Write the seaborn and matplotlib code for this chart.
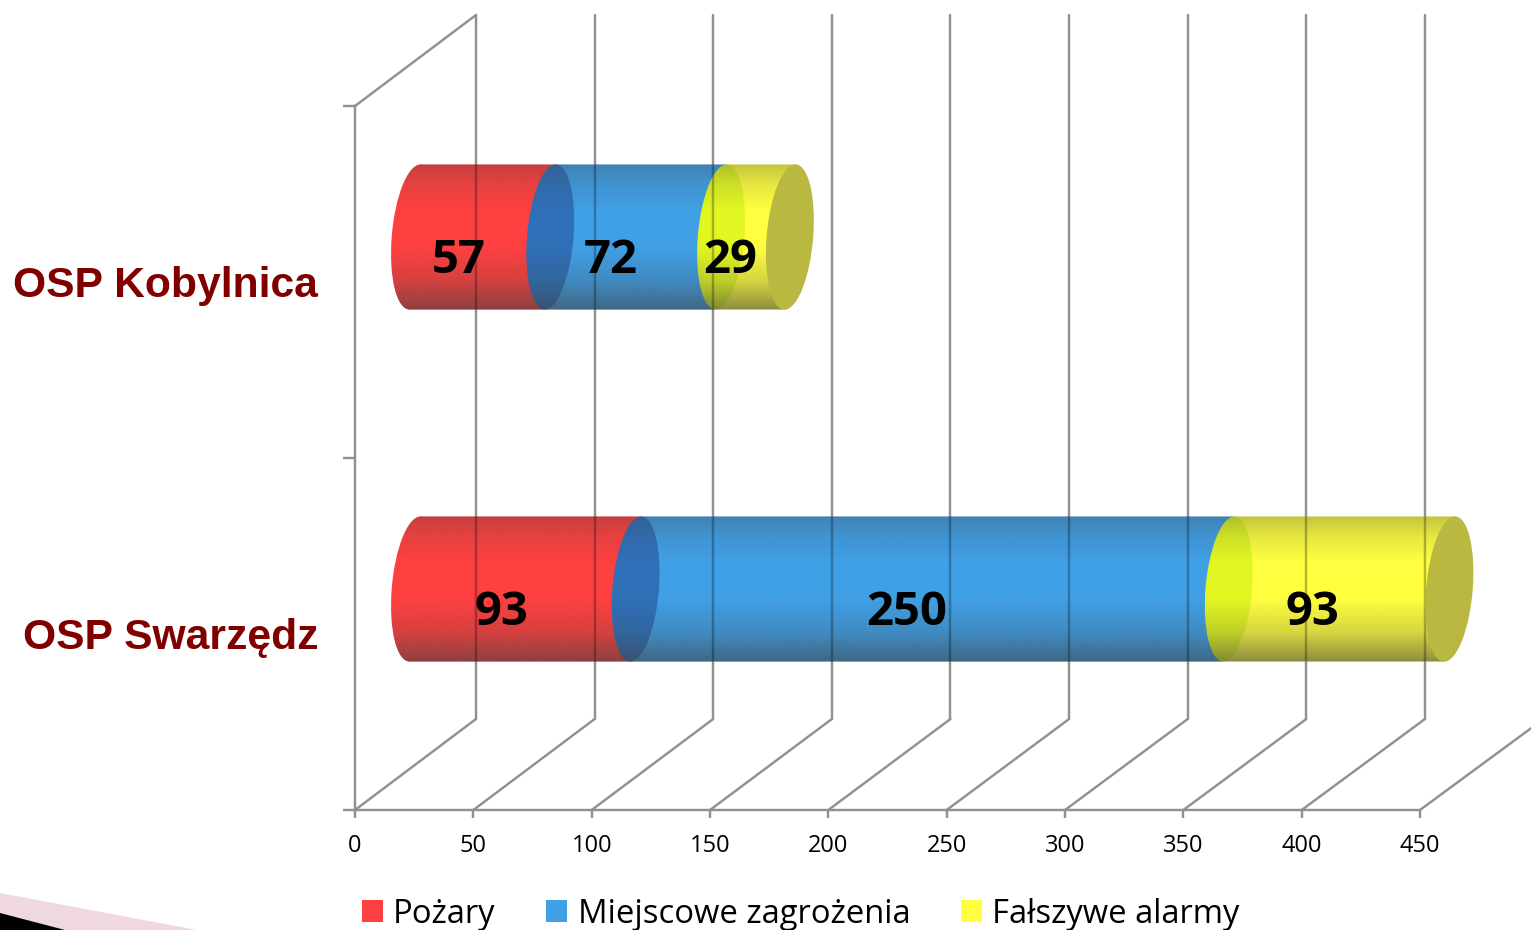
import numpy as np
import matplotlib
matplotlib.use("Agg")
import matplotlib.pyplot as plt
import seaborn as sns
from matplotlib.patches import Ellipse, Patch, Polygon
from matplotlib.path import Path
from matplotlib.transforms import Affine2D

categories = ["OSP Kobylnica", "OSP Swarzędz"]
series_names = ["Pożary", "Miejscowe zagrożenia", "Fałszywe alarmy"]
pozary = [57, 93]
miejscowe = [72, 250]
falszywe = [29, 93]
x_ticks = [0, 50, 100, 150, 200, 250, 300, 350, 400, 450]

RED, BLUE, YELLOW = "#FF4040", "#40A0E6", "#FFFF40"
RING_BLUE, RING_YELLOW, CAP = "#2F70B8", "#E2F722", "#B9B840"
LINE = "#919191"
W, H = 1531, 930

sns.set_theme(style="white")
plt.rcParams["font.family"] = ["Open Sans", "DejaVu Sans"]

fig = plt.figure(figsize=(W / 100, H / 100), dpi=100, facecolor="white")
ax = fig.add_axes([355 / W, 1 - 810 / H, (1420 - 355) / W, (810 - 106) / H])
ax.patch.set_alpha(0)

BAR_H = 0.412
series = [np.array(pozary), np.array(miejscowe), np.array(falszywe)]
colors = [RED, BLUE, YELLOW]
lefts = [np.zeros(2), series[0].astype(float), (series[0] + series[1]).astype(float)]

bar_groups = []
for vals, col, lft in zip(series, colors, lefts):
    n = len(ax.patches)
    sns.barplot(x=vals, y=categories, color=col, saturation=1, width=BAR_H, left=lft,
                errorbar=None, linewidth=0, ax=ax, orient="h")
    bar_groups.append(list(ax.patches[n:]))

ax.set_xlim(0, 450)
ax.set_ylim(1.5, -0.5)
ax.autoscale(False)
ax.set_aspect("auto")

# depth offsets of the pseudo-3D box
wall_dx = 121 / (1065 / 450)
wall_dy = 91 / 352
BACK_SCALE = 1.0024
LW = 1.75
for v in x_ticks:
    bx = v * BACK_SCALE + wall_dx
    ax.plot([v, bx], [1.5, 1.5 - wall_dy], color=LINE, lw=LW, clip_on=False, zorder=1)
    ax.plot([bx, bx], [1.5 - wall_dy, -0.5 - wall_dy], color=LINE, lw=LW, clip_on=False, zorder=1)
ax.plot([0, wall_dx], [-0.5, -0.5 - wall_dy], color=LINE, lw=LW, clip_on=False, zorder=1)

DX, DY = 60, 45
ELL_W = 46.5 / (1065 / 450)
SHEAR = np.arctan(5.5 / 72.5)


def cyl_transform(i):
    x0, cy = ax.transData.transform((0, i))
    return (ax.transData + Affine2D().translate(-x0, -cy).skew(SHEAR, 0).scale(1.0025, 1)
            .translate(x0 + DX, cy + DY))


alpha_stops_t = [0, 0.05, 0.14, 0.32, 0.56, 0.8, 1]
alpha_stops_a = [0.32, 0.24, 0.13, 0, 0, 0.22, 0.6]
tt = np.linspace(0, 1, 145)
grad = np.zeros((145, 1, 4))
grad[:, 0, :3] = 64 / 255
grad[:, 0, 3] = np.interp(tt, alpha_stops_t, alpha_stops_a)

theta_l = np.radians(np.linspace(90, 270, 60))
theta_r = np.radians(np.linspace(-90, 90, 60))

for i in range(len(categories)):
    t = cyl_transform(i)
    shift = ax.transData + Affine2D().translate(DX, DY)
    start = 0.0
    end = float(sum(s[i] for s in series))
    for grp in bar_groups:
        grp[i].set_transform(t)
        grp[i].set_clip_on(False)
        grp[i].set_zorder(3)
    ring_z = 3.5
    ax.add_patch(Ellipse((0, i), ELL_W, BAR_H, color=RED, lw=0, transform=t, clip_on=False, zorder=3))
    for lft, col in ((lefts[1][i], RING_BLUE), (lefts[2][i], RING_YELLOW)):
        ax.add_patch(Ellipse((lft, i), ELL_W, BAR_H, color=col, lw=0, transform=t, clip_on=False, zorder=ring_z))
    xs = np.r_[start + ELL_W / 2 * np.cos(theta_l), end + ELL_W / 2 * np.cos(theta_r)]
    ys = np.r_[i + BAR_H / 2 * np.sin(theta_l), i + BAR_H / 2 * np.sin(theta_r)]
    sil = Path(np.column_stack([xs, ys]))
    im = ax.imshow(grad, extent=(start - 30, end + 30, i + BAR_H / 2, i - BAR_H / 2), origin="upper",
                   aspect="auto", interpolation="bilinear", zorder=4, transform=shift)
    im.set_clip_box(fig.bbox)
    im.set_clip_path(sil, t)
    ax.add_patch(Ellipse((end, i), ELL_W, BAR_H, color=CAP, lw=0, transform=t, clip_on=False, zorder=4.5))
    # grid seen through the translucent cylinder
    for v in x_ticks[:-1]:
        bx = v * BACK_SCALE + wall_dx
        ln, = ax.plot([bx, bx], [1.5 - wall_dy, -0.5 - wall_dy], color="black", alpha=0.28,
                      lw=LW, zorder=4.2, clip_on=True)
        ln.set_clip_box(fig.bbox)
        ln.set_clip_path(sil, t)
    # value labels
    lab_tr = ax.transData + Affine2D().translate(36, 21.5)
    for vals, lft in zip(series, lefts):
        ax.text(lft[i] + vals[i] / 2, i, str(vals[i]), transform=lab_tr, ha="center", va="center",
                fontsize=34, fontweight="bold", family=["Open Sans", "DejaVu Sans"], color="black", zorder=6)

ax.set_xlim(0, 450)
ax.set_ylim(1.5, -0.5)

for s in ("top", "right"):
    ax.spines[s].set_visible(False)
for s in ("left", "bottom"):
    ax.spines[s].set_color(LINE)
    ax.spines[s].set_linewidth(LW)

ax.set_xticks(x_ticks)
ax.set_xticklabels([str(v) for v in x_ticks])
ax.tick_params(axis="x", length=6, width=LW, color=LINE, labelsize=17, pad=11.5, labelcolor="black", bottom=True)
ax.set_yticks([0, 1])
ax.set_yticklabels(categories)
ax.set_yticks([-0.5, 0.5, 1.5], minor=True)
ax.tick_params(axis="y", which="major", length=0, pad=26.5, left=False)
ax.tick_params(axis="y", which="minor", length=9, width=LW, color=LINE, left=True)
for lab in ax.get_yticklabels():
    lab.set_family(["Liberation Sans", "DejaVu Sans"])
    lab.set_fontweight("bold")
    lab.set_fontsize(30.7)
    lab.set_color("#800000")
ax.set_xlabel("")
ax.set_ylabel("")

handles = [Patch(facecolor=c, edgecolor="none") for c in colors]
ax.legend(handles, series_names, loc="center left", bbox_to_anchor=(362 / W, 1 - 914 / H),
          bbox_transform=fig.transFigure, ncol=3, frameon=False, fontsize=23.6, borderpad=0, borderaxespad=0,
          handlelength=0.64, handleheight=0.64, handletextpad=0.31, columnspacing=1.55, labelcolor="black")

# corner decoration of the slide
fig.add_artist(Polygon([(0, 1 - 893 / H), (197 / W, 0), (0, 0)], closed=True, transform=fig.transFigure,
                       facecolor="#EFD9DF", edgecolor="none"))
fig.add_artist(Polygon([(0, 1 - 913 / H), (65 / W, 0), (0, 0)], closed=True, transform=fig.transFigure,
                       facecolor="black", edgecolor="none"))

fig.savefig("out.png", dpi=100)
